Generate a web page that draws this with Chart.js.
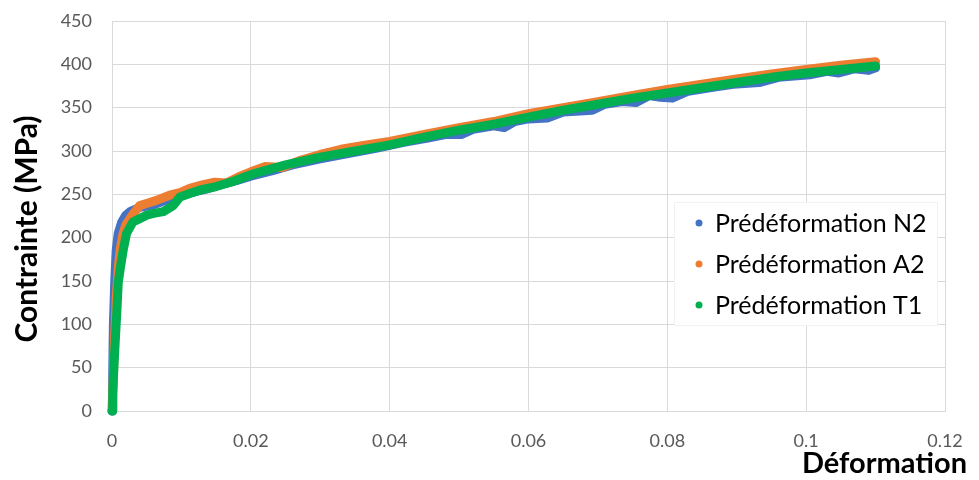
<!DOCTYPE html>
<html>
<head>
<meta charset="utf-8">
<script src="https://cdn.jsdelivr.net/npm/chart.js@4"></script>
<style>
  html, body { margin: 0; padding: 0; background: #fff; }
  #wrap { width: 979px; height: 480px; }
</style>
</head>
<body>
<div id="wrap"><canvas id="chart" width="979" height="480"></canvas></div>
<script>
// values
var seriesNames = ['Prédéformation N2', 'Prédéformation A2', 'Prédéformation T1'];
var seriesColors = ['#4472C4', '#ED7D31', '#00B050'];

var strainN2 = [0, 0.0001, 0.0002, 0.0004, 0.0006, 0.0009, 0.0014, 0.002, 0.0026, 0.004, 0.006, 0.008, 0.01, 0.012, 0.014, 0.016, 0.018, 0.02, 0.023, 0.026, 0.03, 0.034, 0.038, 0.042, 0.0455, 0.048, 0.0503, 0.052, 0.055, 0.0565, 0.058, 0.06, 0.0627, 0.065, 0.0692, 0.071, 0.0735, 0.0755, 0.0774, 0.079, 0.0807, 0.083, 0.087, 0.0895, 0.0932, 0.096, 0.1005, 0.103, 0.1047, 0.107, 0.109, 0.11];
var stressN2 = [0, 40, 100, 150, 185, 205, 218, 226, 230, 235, 238, 244, 249, 253, 257, 262, 266, 271, 277, 284, 291, 297, 303, 310, 315, 319, 319, 325, 329, 327, 334, 337, 338, 345, 347, 354, 357, 356, 364, 362, 361, 369, 374, 377, 379, 385, 388, 392, 390, 395, 393, 396];

var strainA2 = [0, 0.0002, 0.0004, 0.0006, 0.0009, 0.0012, 0.0016, 0.002, 0.003, 0.004, 0.0052, 0.0064, 0.0083, 0.0098, 0.0112, 0.013, 0.0148, 0.0165, 0.0182, 0.02, 0.022, 0.0246, 0.027, 0.03, 0.033, 0.036, 0.04, 0.045, 0.05, 0.055, 0.06, 0.065, 0.07, 0.075, 0.08, 0.085, 0.09, 0.095, 0.1, 0.105, 0.11];
var stressA2 = [2, 40, 90, 130, 165, 188, 205, 215, 227, 237, 240, 243, 249, 252, 257, 261, 264, 263, 270, 276, 282, 281, 289, 296, 302, 306, 311, 319, 327, 334, 343, 350, 357, 364, 371, 377, 383, 389, 394, 399, 403];

var strainT1 = [0, 0.0001, 0.0003, 0.0005, 0.0007, 0.0009, 0.0012, 0.0016, 0.0021, 0.003, 0.004, 0.005, 0.006, 0.0074, 0.0088, 0.0098, 0.0112, 0.0127, 0.015, 0.0175, 0.0205, 0.025, 0.03, 0.035, 0.04, 0.045, 0.05, 0.055, 0.06, 0.065, 0.07, 0.075, 0.08, 0.085, 0.09, 0.095, 0.1, 0.105, 0.11];
var stressT1 = [0, 20, 55, 85, 115, 148, 165, 185, 205, 218, 222, 226, 228, 230, 237, 247, 251, 255, 259, 265, 274, 284, 293, 300, 307, 316, 324, 331, 339, 347, 354, 361, 367, 373, 379, 385, 390, 394, 398];

var xTickLabels = ['0', '0.02', '0.04', '0.06', '0.08', '0.1', '0.12'];
var yTickLabels = ['0', '50', '100', '150', '200', '250', '300', '350', '400', '450'];

var xTitle = 'Déformation';
var yTitle = 'Contrainte (MPa)';

function pts(xs, ys) {
    return xs.map(function (x, i) { return { x: x, y: ys[i] }; });
}

function series(i, xs, ys) {
    return {
        label: seriesNames[i],
        data: pts(xs, ys),
        borderColor: seriesColors[i],
        backgroundColor: seriesColors[i],
        showLine: true,
        borderWidth: 9,
        borderJoinStyle: 'round',
        borderCapStyle: 'round',
        pointRadius: 0,
        tension: 0,
        clip: false,
        order: 3 - i
    };
}

// titles and the boxed legend inside the plot, drawn on the canvas
var overlay = {
    id: 'overlay',
    afterDraw: function (chart) {
        var ctx = chart.ctx;
        ctx.save();

        ctx.fillStyle = '#000';
        ctx.font = 'bold 29px Lato';
        ctx.textBaseline = 'alphabetic';
        ctx.textAlign = 'right';
        ctx.fillText(xTitle, 967, 473);

        ctx.font = 'bold 30px Lato';
        ctx.translate(37, 229);
        ctx.rotate(-Math.PI / 2);
        ctx.textAlign = 'center';
        ctx.fillText(yTitle, 0, 0);
        ctx.restore();

        ctx.save();
        ctx.fillStyle = '#fff';
        ctx.fillRect(674, 202, 264, 124);
        ctx.strokeStyle = '#f2f2f2';
        ctx.lineWidth = 1;
        ctx.strokeRect(674.5, 202.5, 263, 123);
        ctx.font = '25px Lato';
        ctx.textAlign = 'left';
        ctx.textBaseline = 'middle';
        for (var i = 0; i < seriesNames.length; i++) {
            var y = 223 + i * 41;
            ctx.fillStyle = seriesColors[i];
            ctx.beginPath();
            ctx.arc(699, y, 3.5, 0, Math.PI * 2);
            ctx.fill();
            ctx.fillStyle = '#000';
            ctx.fillText(seriesNames[i], 715, y + 1);
        }
        ctx.restore();
    }
};

var ctx = document.getElementById('chart');

var myChart = new Chart(ctx, {
    type: 'scatter',
    data: {
        datasets: [
            series(0, strainN2, stressN2),
            series(1, strainA2, stressA2),
            series(2, strainT1, stressT1)
        ]
    },
    options: {
        responsive: false,
        animation: false,
        layout: { padding: { left: 0, top: 21, right: 34, bottom: 0 } },
        scales: {
            x: {
                type: 'linear',
                min: 0,
                max: 0.12,
                afterFit: function (s) { s.height = 69; s.paddingLeft = 0; s.paddingRight = 0; },
                ticks: {
                    stepSize: 0.02,
                    padding: 19,
                    color: '#595959',
                    font: { family: 'Lato', size: 18 },
                    callback: function (v, i) { return xTickLabels[i]; }
                },
                grid: { color: '#d9d9d9', drawTicks: false },
                border: { color: '#d9d9d9' }
            },
            y: {
                min: 0,
                max: 450,
                afterFit: function (s) { s.width = 112; s.paddingTop = 0; s.paddingBottom = 0; },
                ticks: {
                    stepSize: 50,
                    padding: 20,
                    color: '#595959',
                    font: { family: 'Lato', size: 18 },
                    callback: function (v, i) { return yTickLabels[i]; }
                },
                grid: { color: '#d9d9d9', drawTicks: false },
                border: { color: '#d9d9d9' }
            }
        },
        plugins: {
            legend: { display: false },
            tooltip: { enabled: false }
        }
    },
    plugins: [overlay]
});
</script>
</body>
</html>
